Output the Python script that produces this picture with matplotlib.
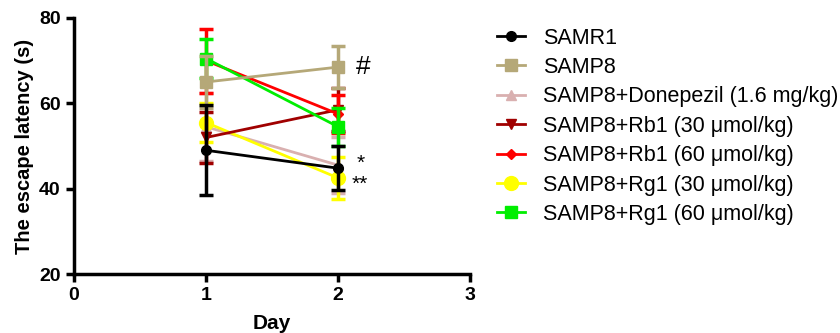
import matplotlib.pyplot as plt

plt.rcParams['font.family'] = ['Liberation Sans', 'DejaVu Sans']

days = [1, 2]
groups = ["SAMR1", "SAMP8", "SAMP8+Donepezil (1.6 mg/kg)", "SAMP8+Rb1 (30 μmol/kg)",
          "SAMP8+Rb1 (60 μmol/kg)", "SAMP8+Rg1 (30 μmol/kg)", "SAMP8+Rg1 (60 μmol/kg)"]
means = [[49.0, 44.8], [65.0, 68.5], [54.5, 45.5], [52.0, 58.5],
         [70.0, 57.5], [55.5, 42.5], [70.5, 54.5]]
errs = [[10.5, 5.2], [6.0, 5.0], [8.0, 6.5], [6.0, 5.0],
        [7.5, 4.5], [4.5, 5.0], [4.5, 4.5]]
colors = ["black", "#b5a878", "#d9b0b0", "#a00000", "#ff0000", "#ffff00", "#00ee00"]
markers = ["o", "s", "^", "v", "D", "o", "s"]
msizes = [7, 8, 7, 7, 5, 10, 9]
zorders = [10, 9, 3, 5, 6, 4, 7]

fig = plt.figure(figsize=(8.4, 3.33), dpi=100)
ax = fig.add_axes([0.088, 0.177, 0.472, 0.769])

for g, m, e, c, mk, ms, z in zip(groups, means, errs, colors, markers, msizes, zorders):
    ax.errorbar(days, m, yerr=e, color=c, marker=mk, markersize=ms, linewidth=2,
                elinewidth=2.5, capsize=5, capthick=2.5, label=g, zorder=z)

ax.text(2.13, 68.5, "#", fontsize=19, va="center", ha="left")
ax.text(2.14, 46.0, "*", fontsize=15, va="center", ha="left")
ax.text(2.10, 41.0, "**", fontsize=15, va="center", ha="left")

ax.set_xlim(0, 3)
ax.set_ylim(20, 80)
ax.set_xticks([0, 1, 2, 3])
ax.set_yticks([20, 40, 60, 80])
ax.set_xlabel("Day", fontsize=15, fontweight="bold", labelpad=7)
ax.set_ylabel("The escape latency (s)", fontsize=14.5, fontweight="bold")
for lab in ax.get_xticklabels() + ax.get_yticklabels():
    lab.set_fontweight("bold")
ax.tick_params(labelsize=14, width=2.5, length=6, direction="out")
for s in ["top", "right"]:
    ax.spines[s].set_visible(False)
for s in ["left", "bottom"]:
    ax.spines[s].set_linewidth(2.5)

handles, labels = ax.get_legend_handles_labels()
handles = [h[0] for h in handles]
fig.legend(handles, labels, loc="upper left", bbox_to_anchor=(0.587, 0.93),
           frameon=False, fontsize=15.5, handlelength=1.3, labelspacing=0.39,
           handletextpad=0.8, borderaxespad=0, borderpad=0.2)

fig.savefig("out.png", dpi=100)
